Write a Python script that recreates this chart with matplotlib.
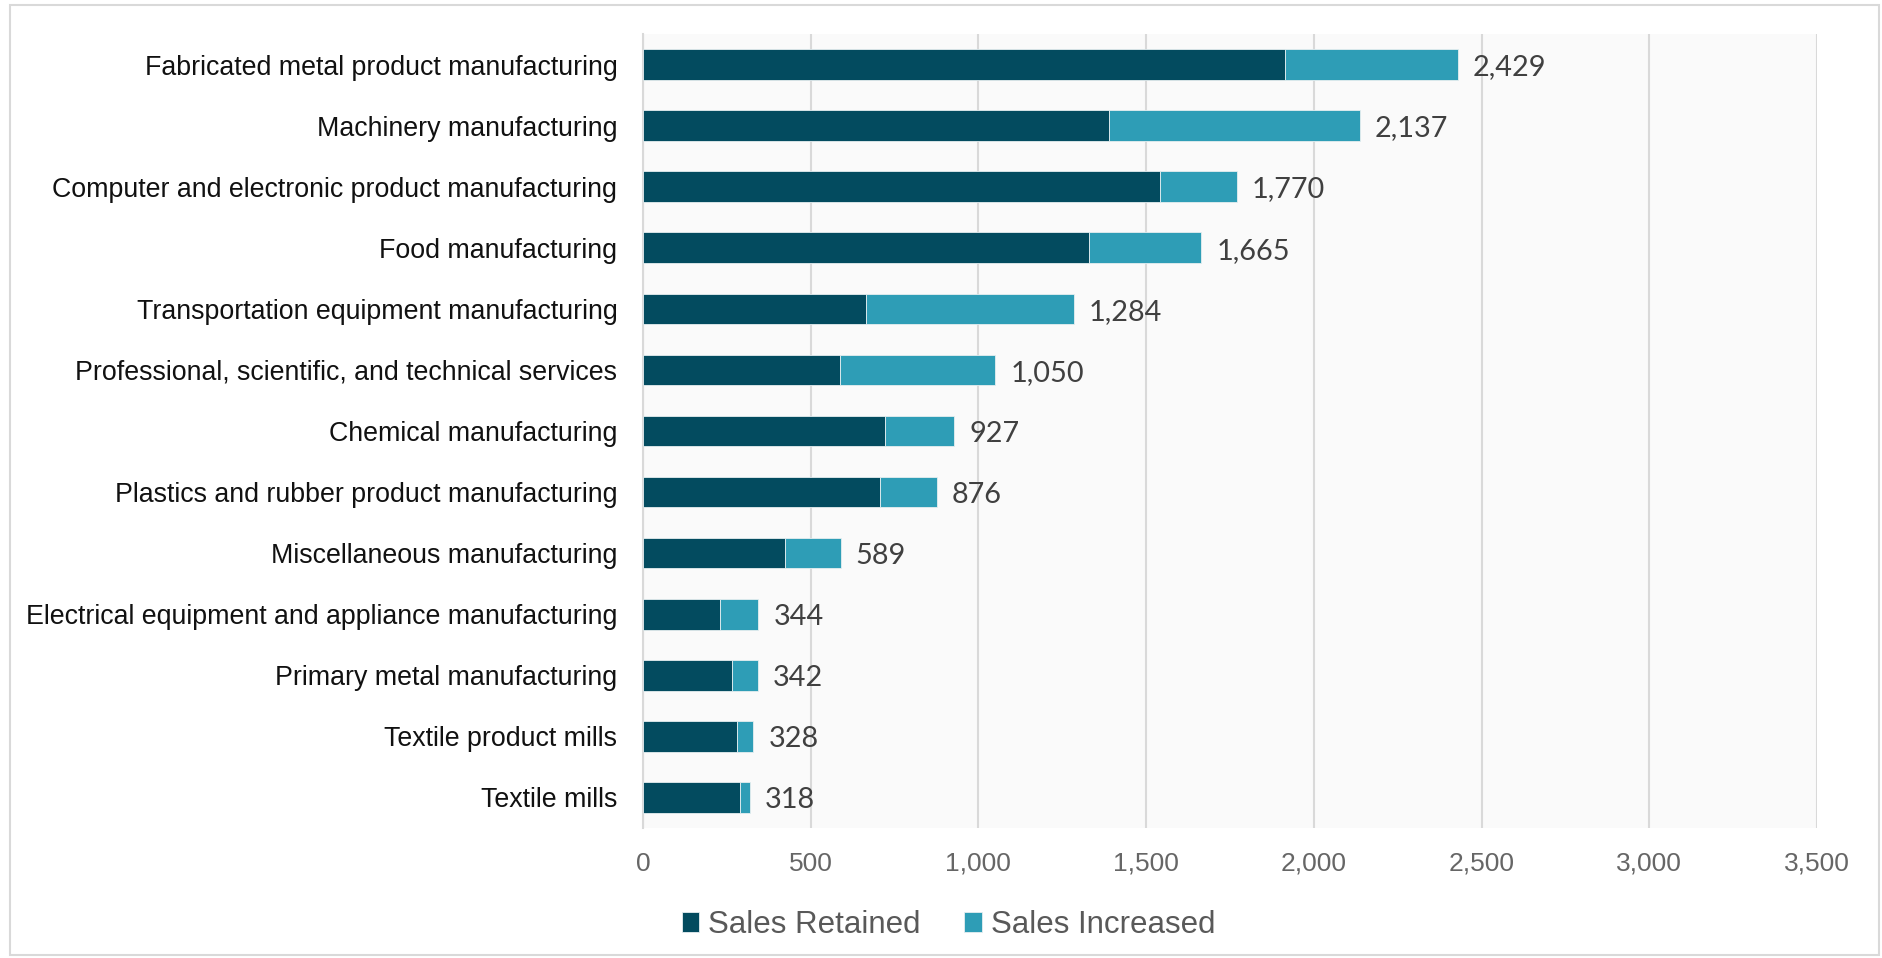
import matplotlib
matplotlib.use("Agg")
import matplotlib.pyplot as plt
from matplotlib.patches import Rectangle
import numpy as np

categories = [
    "Fabricated metal product manufacturing",
    "Machinery manufacturing",
    "Computer and electronic product manufacturing",
    "Food manufacturing",
    "Transportation equipment manufacturing",
    "Professional, scientific, and technical services",
    "Chemical manufacturing",
    "Plastics and rubber product manufacturing",
    "Miscellaneous manufacturing",
    "Electrical equipment and appliance manufacturing",
    "Primary metal manufacturing",
    "Textile product mills",
    "Textile mills",
]
sales_retained = [1914, 1388, 1542, 1331, 665, 588, 720, 707, 423, 229, 265, 280, 289]
sales_increased = [515, 749, 228, 334, 619, 462, 207, 169, 166, 115, 77, 48, 29]
totals = [2429, 2137, 1770, 1665, 1284, 1050, 927, 876, 589, 344, 342, 328, 318]
x_ticks = [0, 500, 1000, 1500, 2000, 2500, 3000, 3500]
series_names = ["Sales Retained", "Sales Increased"]

c_dark = "#034b5f"
c_light = "#2e9db6"

fig = plt.figure(figsize=(18.82, 9.58), dpi=100)
fig.patch.set_facecolor("white")
fig.patches.append(Rectangle((10 / 1882, 3 / 958), 1869 / 1882, 950 / 958,
                             transform=fig.transFigure, fill=False,
                             edgecolor="#d9d9d9", linewidth=1.5, zorder=0))

ax = fig.add_axes([643 / 1882, 1 - 828 / 958, (1817 - 643) / 1882, (828 - 34) / 958])
ax.set_facecolor("#fafafa")

y = np.arange(len(categories))
ax.barh(y, sales_retained, height=0.5, color=c_dark, edgecolor="#e6eef0",
        linewidth=0.6, label=series_names[0], zorder=3)
ax.barh(y, sales_increased, left=sales_retained, height=0.5, color=c_light,
        edgecolor="#e6eef0", linewidth=0.6, label=series_names[1], zorder=3)

for yi, t in zip(y, totals):
    ax.annotate(f"{t:,}", xy=(t, yi), xytext=(11, -2), textcoords="offset points",
                ha="left", va="center", fontsize=20.8, family="Lato",
                color="#404040")

ax.set_xlim(0, 3500)
ax.set_ylim(len(categories) - 0.5, -0.5)
ax.set_xticks(x_ticks)
ax.set_xticklabels([f"{v:,}" for v in x_ticks], family="Liberation Sans",
                   fontsize=19, color="#666666")
ax.set_yticks(y)
ax.set_yticklabels(categories, family="Liberation Sans", fontsize=19.3,
                   color="#111111")
ax.tick_params(axis="y", length=0, pad=18.5)
ax.tick_params(axis="x", length=0, pad=17)
ax.grid(axis="x", color="#d9d9d9", linewidth=1.5, zorder=0)
ax.set_axisbelow(True)
for s in ["top", "right", "bottom"]:
    ax.spines[s].set_visible(False)
ax.spines["left"].set_color("#d9d9d9")
ax.spines["left"].set_linewidth(1.5)

handles, labels = ax.get_legend_handles_labels()
leg = fig.legend(handles, labels, loc="center", bbox_to_anchor=(0.504, 0.034),
                 ncol=2, frameon=False, prop={"family": "Liberation Sans", "size": 22.5},
                 handlelength=0.55, handleheight=0.6, handletextpad=0.3,
                 columnspacing=1.4, labelcolor="#595959")

fig.savefig("out.png", dpi=100, facecolor="white")
